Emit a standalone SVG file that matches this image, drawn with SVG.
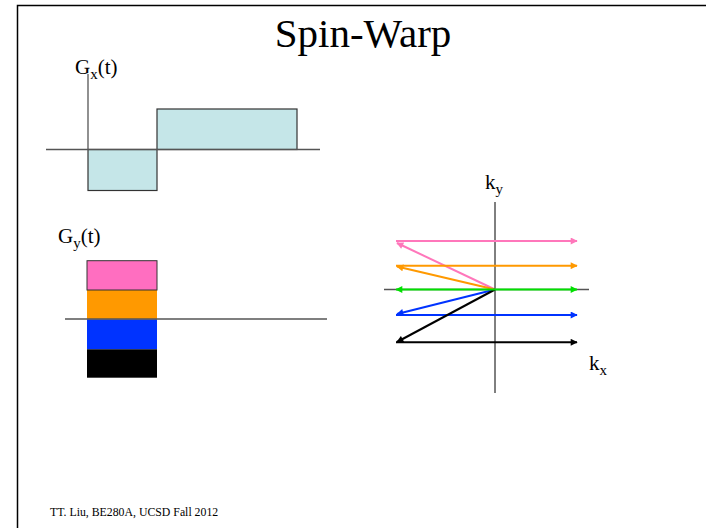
<svg xmlns="http://www.w3.org/2000/svg" width="706" height="528" viewBox="0 0 706 528">
<defs>
<style>
.t{font-family:"Liberation Serif","Times New Roman",serif;fill:#000}
.ax{stroke:#555;stroke-width:1.3;fill:none}
.gx{fill:#c5e6e8;stroke:#333;stroke-width:1.2}
.k{stroke-width:2;fill:none}
</style>
<marker id="aP" viewBox="0 0 10 10" refX="9" refY="5" markerWidth="9" markerHeight="7" markerUnits="userSpaceOnUse" orient="auto-start-reverse"><path d="M0,0 L10,5 L0,10 z" fill="#ff77bb"/></marker>
<marker id="aO" viewBox="0 0 10 10" refX="9" refY="5" markerWidth="9" markerHeight="7" markerUnits="userSpaceOnUse" orient="auto-start-reverse"><path d="M0,0 L10,5 L0,10 z" fill="#ff9900"/></marker>
<marker id="aG" viewBox="0 0 10 10" refX="9" refY="5" markerWidth="9" markerHeight="7" markerUnits="userSpaceOnUse" orient="auto-start-reverse"><path d="M0,0 L10,5 L0,10 z" fill="#00e000"/></marker>
<marker id="aB" viewBox="0 0 10 10" refX="9" refY="5" markerWidth="9" markerHeight="7" markerUnits="userSpaceOnUse" orient="auto-start-reverse"><path d="M0,0 L10,5 L0,10 z" fill="#0033ff"/></marker>
<marker id="aK" viewBox="0 0 10 10" refX="9" refY="5" markerWidth="9" markerHeight="7" markerUnits="userSpaceOnUse" orient="auto-start-reverse"><path d="M0,0 L10,5 L0,10 z" fill="#000"/></marker>
</defs>
<rect width="706" height="528" fill="#fff"/>
<path d="M17.5,528 L17.5,5.5 L706,5.5" stroke="#000" stroke-width="1.5" fill="none"/>
<text class="t" x="363" y="47" font-size="41" text-anchor="middle">Spin-Warp</text>

<g id="gx-plot">
<text class="t" x="75" y="74" font-size="21">G<tspan font-size="15" dy="5">x</tspan><tspan dy="-5">(t)</tspan></text>
<line class="ax" x1="88" y1="74" x2="88" y2="150"/>
<rect class="gx" x="88" y="149.5" width="69" height="41"/>
<rect class="gx" x="157" y="109" width="140" height="40.5"/>
<line class="ax" x1="46" y1="149.5" x2="320" y2="149.5"/>
</g>

<g id="gy-plot">
<text class="t" x="58" y="243" font-size="21">G<tspan font-size="15" dy="5">y</tspan><tspan dy="-5">(t)</tspan></text>
<rect x="87" y="290" width="70" height="29.3" fill="#ff9900"/>
<rect x="87" y="319.3" width="70" height="30" fill="#0033ff"/>
<rect x="87" y="349.3" width="70" height="28.4" fill="#000"/>
<rect x="87" y="260.7" width="70" height="29.3" fill="#ff6ec0" stroke="#333" stroke-width="1"/>
<line class="ax" x1="65" y1="319" x2="327" y2="319"/>
</g>

<g id="kspace-axes">
<line x1="495" y1="202" x2="495" y2="393" stroke="#000" stroke-width="1"/>
<line class="ax" x1="384" y1="289.5" x2="589" y2="289.5"/>
<text class="t" x="485" y="189" font-size="21">k<tspan font-size="15" dy="5">y</tspan></text>
<text class="t" x="589" y="370" font-size="21">k<tspan font-size="15" dy="5">x</tspan></text>
</g>

<g id="connectors">
<line class="k" stroke="#ff77bb" x1="396" y1="241" x2="577" y2="241" marker-end="url(#aP)"/>
<line class="k" stroke="#ff77bb" x1="495" y1="289.5" x2="397" y2="243" marker-end="url(#aP)"/>
<line class="k" stroke="#ff9900" x1="396" y1="265.7" x2="577" y2="265.7" marker-end="url(#aO)"/>
<line class="k" stroke="#ff9900" x1="495" y1="289.5" x2="397" y2="266.5" marker-end="url(#aO)"/>
<line class="k" stroke="#0033ff" x1="396" y1="315" x2="577" y2="315" marker-end="url(#aB)"/>
<line class="k" stroke="#0033ff" x1="495" y1="289.5" x2="397" y2="314" marker-end="url(#aB)"/>
<line class="k" stroke="#000" x1="396" y1="342.3" x2="577" y2="342.3" marker-end="url(#aK)"/>
<line class="k" stroke="#000" x1="495" y1="289.5" x2="397" y2="342" marker-end="url(#aK)"/>
<line class="k" stroke="#00e000" x1="396" y1="289.5" x2="577" y2="289.5" marker-start="url(#aG)" marker-end="url(#aG)"/>
</g>

<text class="t" x="50" y="516" font-size="11.8">TT. Liu, BE280A, UCSD Fall 2012</text>
</svg>
